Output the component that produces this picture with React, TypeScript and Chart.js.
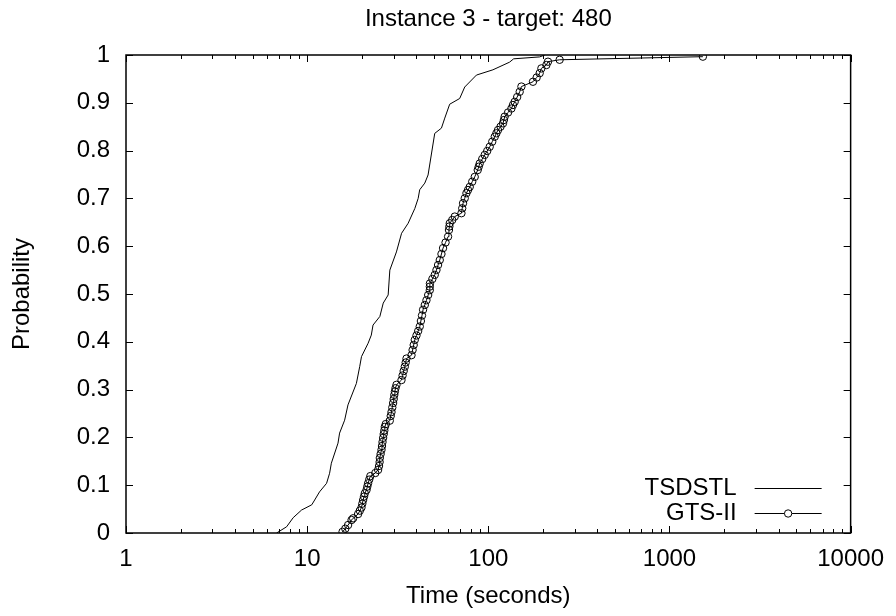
import React, { useEffect, useRef } from "react";
import { Chart, registerables } from "chart.js";

Chart.register(...registerables);

const TITLE = "Instance 3 - target: 480";
const X_TITLE = "Time (seconds)";
const Y_TITLE = "Probability";
const SERIES_NAMES = ["TSDSTL", "GTS-II"];
const X_TICKS = [1, 10, 100, 1000, 10000];
const Y_TICKS = [0, 0.1, 0.2, 0.3, 0.4, 0.5, 0.6, 0.7, 0.8, 0.9, 1];

const tsdstlTime = [
  6.78, 7.7, 8.37, 9.31, 10.6, 11.0, 11.7, 12.8, 13.3, 13.6, 14.8, 15.1, 16.1, 16.8,
  18.7, 19.5, 19.95, 21.7, 22.6, 23.1, 25.2, 26.3, 28.0, 28.6, 31.1, 33.2, 36.1, 39.3,
  41.0, 41.8, 44.6, 46.5, 50.6, 55.1, 57.5, 61.2, 69.5, 74.1, 86.0, 106, 131, 138, 192, 205,
];
const tsdstlProb = [
  0.0, 0.013, 0.032, 0.048, 0.059, 0.069, 0.086, 0.104, 0.125, 0.146, 0.188, 0.209, 0.236, 0.268,
  0.313, 0.348, 0.369, 0.397, 0.414, 0.435, 0.453, 0.481, 0.498, 0.55, 0.588, 0.627, 0.648, 0.679,
  0.7, 0.718, 0.732, 0.749, 0.836, 0.847, 0.868, 0.897, 0.909, 0.933, 0.958, 0.969, 0.985, 0.992, 0.996, 1.0,
];

const gtsTime = [
  15.68, 16.24, 16.83, 17.58, 17.94, 19.11, 19.53, 19.95, 20.16, 20.37,
  20.6, 20.81, 21.27, 21.48, 21.7, 22.01, 22.32, 23.78, 24.64, 24.93,
  25.12, 25.18, 25.44, 25.73, 25.89, 26.06, 26.26, 26.46, 26.66, 26.83,
  27.18, 28.58, 28.92, 29.21, 29.51, 29.82, 30.04, 30.27, 30.5, 30.74,
  31.13, 33.17, 33.63, 34.1, 34.59, 34.99, 35.35, 37.67, 38.19, 38.73,
  39.27, 40.13, 41.01, 41.84, 42.44, 43.04, 43.63, 44.6, 45.56, 46.56,
  47.52, 47.55, 47.6, 49.11, 50.62, 51.73, 52.8, 53.95, 55.12, 56.25,
  58.07, 59.95, 60.64, 60.95, 61.26, 63.22, 65.27, 71.07, 71.78, 72.54,
  74.1, 75.73, 77.27, 78.97, 81.49, 84.14, 87.41, 88.51, 89.65, 92.55,
  95.52, 98.61, 101.8, 105.1, 108.5, 110.8, 113.1, 116.8, 120.5, 121.9,
  123.1, 128.5, 134.1, 136.8, 139.8, 144.3, 149.0, 152.3, 176.4, 184.9,
  192.1, 196.3, 209.2, 213.5, 247.6, 1529,
];
const gtsProb = [
  0.0025, 0.009, 0.0167, 0.0272, 0.0308, 0.0397, 0.0467, 0.0533, 0.0613, 0.069,
  0.0762, 0.083, 0.09, 0.0971, 0.104, 0.1117, 0.119, 0.1255, 0.132, 0.1402,
  0.1485, 0.157, 0.1653, 0.174, 0.182, 0.1904, 0.199, 0.2071, 0.2144, 0.222,
  0.228, 0.235, 0.2448, 0.253, 0.2626, 0.272, 0.2803, 0.289, 0.296, 0.303,
  0.31, 0.32, 0.3295, 0.3389, 0.348, 0.3567, 0.365, 0.372, 0.3828, 0.3933,
  0.404, 0.4132, 0.4226, 0.432, 0.4435, 0.455, 0.467, 0.477, 0.487, 0.4979,
  0.508, 0.5155, 0.522, 0.5314, 0.54, 0.5502, 0.5607, 0.571, 0.5837, 0.596,
  0.6077, 0.62, 0.6339, 0.6412, 0.648, 0.6548, 0.662, 0.669, 0.6793, 0.69,
  0.7002, 0.711, 0.7176, 0.724, 0.7349, 0.745, 0.7594, 0.7663, 0.773, 0.7824,
  0.791, 0.7992, 0.808, 0.8186, 0.829, 0.8362, 0.843, 0.85, 0.857, 0.864,
  0.871, 0.8797, 0.888, 0.8954, 0.902, 0.9121, 0.923, 0.934, 0.944, 0.9529,
  0.962, 0.972, 0.979, 0.986, 0.99, 0.9965,
];

const FONT_FAMILY = "'Liberation Sans', Arial, Helvetica, sans-serif";
const FONT_SIZE = 24;
const POINT_R = 3.7;

const framePlugin = {
  id: "gnuplotFrame",
  afterDraw(chart: any) {
    const { ctx, chartArea: a, scales } = chart;
    const xs = scales.x;
    const ys = scales.y;
    ctx.save();
    ctx.strokeStyle = "#000";
    ctx.lineWidth = 1.5;
    ctx.strokeRect(a.left, a.top, a.right - a.left, a.bottom - a.top);
    ctx.lineWidth = 1;
    ctx.beginPath();
    for (let d = 1; d <= 10000; d *= 10) {
      for (let k = 1; k <= 9; k++) {
        const v = d * k;
        if (v > 10000) break;
        const px = Math.round(xs.getPixelForValue(v)) + 0.5;
        const len = k === 1 ? 7 : 4;
        ctx.moveTo(px, a.bottom);
        ctx.lineTo(px, a.bottom - len);
        ctx.moveTo(px, a.top);
        ctx.lineTo(px, a.top + len);
      }
    }
    for (const v of Y_TICKS) {
      const py = Math.round(ys.getPixelForValue(v)) + 0.5;
      ctx.moveTo(a.left, py);
      ctx.lineTo(a.left + 7, py);
      ctx.moveTo(a.right, py);
      ctx.lineTo(a.right - 7, py);
    }
    ctx.stroke();

    ctx.fillStyle = "#000";
    ctx.font = `${FONT_SIZE}px ${FONT_FAMILY}`;
    ctx.textAlign = "center";
    ctx.textBaseline = "middle";
    ctx.fillText(TITLE, (a.left + a.right) / 2, 19);

    const textRight = a.right - 114;
    const lineL = a.right - 96;
    const lineR = a.right - 29;
    const rows = [a.bottom - 45, a.bottom - 20];
    ctx.textAlign = "right";
    SERIES_NAMES.forEach((name, i) => {
      const y = rows[i];
      ctx.fillText(name, textRight, y);
      ctx.beginPath();
      ctx.moveTo(lineL, y + 0.5);
      ctx.lineTo(lineR, y + 0.5);
      ctx.stroke();
      if (i === 1) {
        ctx.beginPath();
        ctx.fillStyle = "#fff";
        ctx.arc((lineL + lineR) / 2, y + 0.5, POINT_R, 0, Math.PI * 2);
        ctx.fill();
        ctx.stroke();
        ctx.fillStyle = "#000";
      }
    });
    ctx.restore();
  },
};

export default function App() {
  const ref = useRef<HTMLCanvasElement | null>(null);

  useEffect(() => {
    document.body.style.margin = "0";
    const canvas = ref.current;
    if (!canvas) return;
    const font = { family: FONT_FAMILY, size: FONT_SIZE };
    const chart = new Chart(canvas, {
      type: "scatter",
      data: {
        datasets: [
          {
            label: SERIES_NAMES[0],
            data: tsdstlTime.map((x, i) => ({ x, y: tsdstlProb[i] })),
            showLine: true,
            borderColor: "#000",
            borderWidth: 1,
            pointRadius: 0,
            tension: 0,
          },
          {
            label: SERIES_NAMES[1],
            data: gtsTime.map((x, i) => ({ x, y: gtsProb[i] })),
            showLine: true,
            borderColor: "#000",
            borderWidth: 1,
            pointRadius: POINT_R,
            pointBorderWidth: 1,
            pointBorderColor: "#000",
            pointBackgroundColor: "rgba(0,0,0,0)",
            tension: 0,
          },
        ],
      },
      plugins: [framePlugin],
      options: {
        animation: false,
        responsive: false,
        events: [],
        layout: { padding: { top: 55, right: 44, left: 0, bottom: 0 } },
        plugins: { legend: { display: false }, tooltip: { enabled: false } },
        scales: {
          x: {
            type: "logarithmic",
            position: "bottom",
            min: 1,
            max: 10000,
            afterBuildTicks: (s: any) => {
              s.ticks = X_TICKS.map((v) => ({ value: v }));
            },
            afterFit: (s: any) => {
              s.height = 83;
            },
            ticks: {
              callback: (v: any) => String(v),
              font,
              color: "#000",
              padding: 12,
              maxRotation: 0,
              autoSkip: false,
            },
            grid: { display: false, drawTicks: false },
            border: { display: false },
            title: {
              display: true,
              text: X_TITLE,
              font,
              color: "#000",
              padding: { top: 0, bottom: 5 },
            },
          },
          y: {
            type: "linear",
            position: "left",
            min: 0,
            max: 1,
            afterBuildTicks: (s: any) => {
              s.ticks = Y_TICKS.map((v) => ({ value: v }));
            },
            afterFit: (s: any) => {
              s.width = 126;
            },
            ticks: {
              callback: (v: any) => String(Math.round(Number(v) * 10) / 10),
              font,
              color: "#000",
              padding: 16,
              autoSkip: false,
            },
            grid: { display: false, drawTicks: false },
            border: { display: false },
            title: {
              display: true,
              text: Y_TITLE,
              font,
              color: "#000",
              padding: { top: 8, bottom: 0 },
            },
          },
        },
      },
    });
    return () => chart.destroy();
  }, []);

  return (
    <div style={{ position: "absolute", left: 0, top: 0, width: 896, height: 616, background: "#fff" }}>
      <canvas ref={ref} width={896} height={616} style={{ display: "block", width: 896, height: 616 }} />
    </div>
  );
}
